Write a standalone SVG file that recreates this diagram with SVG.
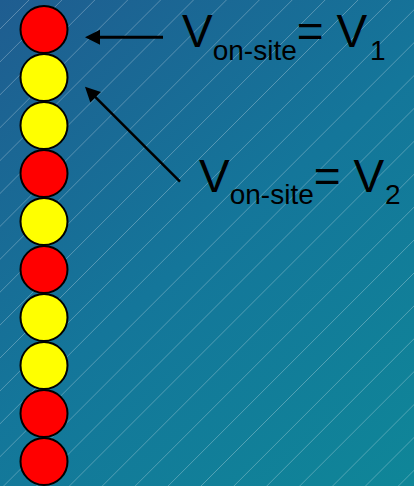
<svg xmlns="http://www.w3.org/2000/svg" width="414" height="486" viewBox="0 0 414 486">
<defs>
<linearGradient id="bg" x1="0" y1="0" x2="414" y2="486" gradientUnits="userSpaceOnUse">
<stop offset="0" stop-color="#1f5d90"/>
<stop offset="0.5" stop-color="#14769a"/>
<stop offset="1" stop-color="#0f8698"/>
</linearGradient>
<marker id="ah" markerUnits="userSpaceOnUse" markerWidth="16" markerHeight="16" viewBox="0 -8 16 16" refX="1" refY="0" orient="auto" overflow="visible">
<path d="M0,-7.5 L15,0 L0,7.5 z" fill="#000"/>
</marker>
<style>
.red{fill:#ff0000;stroke:#000;stroke-width:2}
.yel{fill:#ffff00;stroke:#000;stroke-width:2}
.hatch{stroke:#ffffff;stroke-opacity:0.35;stroke-width:0.8;fill:none}
.arr{stroke:#000;fill:none;marker-end:url(#ah)}
.lbl{font-family:"Liberation Sans",Arial,sans-serif;fill:#000;font-size:46px}
.sub{font-size:28px}
</style>
</defs>
<rect x="0" y="0" width="414" height="486" fill="url(#bg)"/>
<path class="hatch" d="M39,-10 L-467,496 M71.9,-10 L-434.1,496 M104.8,-10 L-401.2,496 M137.7,-10 L-368.3,496 M170.6,-10 L-335.4,496 M203.5,-10 L-302.5,496 M236.4,-10 L-269.6,496 M269.3,-10 L-236.7,496 M302.2,-10 L-203.8,496 M335.1,-10 L-170.9,496 M368,-10 L-138,496 M400.9,-10 L-105.1,496 M433.8,-10 L-72.2,496 M466.7,-10 L-39.3,496 M499.6,-10 L-6.4,496 M532.5,-10 L26.5,496 M565.4,-10 L59.4,496 M598.3,-10 L92.3,496 M631.2,-10 L125.2,496 M664.1,-10 L158.1,496 M697,-10 L191,496 M729.9,-10 L223.9,496 M762.8,-10 L256.8,496 M795.7,-10 L289.7,496 M828.6,-10 L322.6,496 M861.5,-10 L355.5,496 M894.4,-10 L388.4,496 M927.3,-10 L421.3,496"/>
<g id="chain">
<circle id="site1" class="red" cx="44" cy="29.5" r="23.5"/>
<circle id="site2" class="yel" cx="44" cy="77.5" r="23.5"/>
<circle id="site3" class="yel" cx="44" cy="125.5" r="23.5"/>
<circle id="site4" class="red" cx="44" cy="173.5" r="23.5"/>
<circle id="site5" class="yel" cx="44" cy="221.5" r="23.5"/>
<circle id="site6" class="red" cx="44" cy="269.5" r="23.5"/>
<circle id="site7" class="yel" cx="44" cy="317.5" r="23.5"/>
<circle id="site8" class="yel" cx="44" cy="365.5" r="23.5"/>
<circle id="site9" class="red" cx="44" cy="413.5" r="23.5"/>
<circle id="site10" class="red" cx="44" cy="461.5" r="23.5"/>
</g>
<g id="connectors">
<line class="arr" x1="163" y1="37.3" x2="99" y2="37.3" stroke-width="3"/>
<line class="arr" x1="180" y1="181.7" x2="94.9" y2="96.6" stroke-width="2.5"/>
</g>
<g id="label1">
<text class="lbl" x="182" y="47">V<tspan class="sub" dy="13">on-site</tspan><tspan dy="-13">= V</tspan><tspan class="sub" dx="3" dy="13">1</tspan></text>
</g>
<g id="label2">
<text class="lbl" x="199" y="192">V<tspan class="sub" dy="12">on-site</tspan><tspan dy="-12">= V</tspan><tspan class="sub" dx="1" dy="12">2</tspan></text>
</g>
</svg>
